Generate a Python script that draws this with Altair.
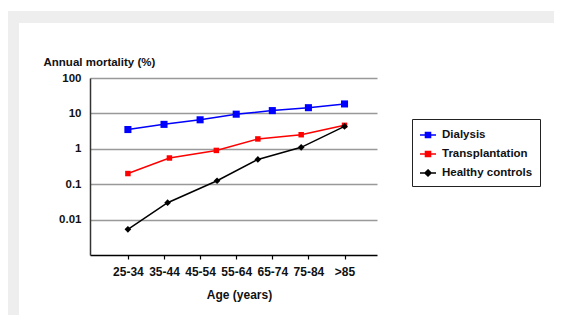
import altair as alt
import pandas as pd

ages = ["25-34", "35-44", "45-54", "55-64", "65-74", "75-84", ">85"]
series_names = ["Dialysis", "Transplantation", "Healthy controls"]
series_colors = ["#0000ff", "#ff0000", "#000000"]

dialysis_x = [0, 1, 2, 3, 4, 5, 6]
dialysis = [3.5, 4.9, 6.6, 9.5, 12.0, 14.5, 18.5]

transplant_x = [0, 1.15, 2.45, 3.6, 4.8, 6]
transplant = [0.2, 0.55, 0.9, 1.9, 2.5, 4.6]

healthy_x = [0, 1.1, 2.47, 3.6, 4.8, 6]
healthy = [0.0053, 0.03, 0.125, 0.5, 1.1, 4.3]

y_ticks = [0.01, 0.1, 1, 10, 100]

rows = []
for name, xs, ys in [("Dialysis", dialysis_x, dialysis),
                     ("Transplantation", transplant_x, transplant),
                     ("Healthy controls", healthy_x, healthy)]:
    for xv, yv in zip(xs, ys):
        rows.append({"series": name, "x": xv, "value": yv})
df = pd.DataFrame(rows)

FONT = "Liberation Sans"
label_expr = "[" + ",".join("'%s'" % a for a in ages) + "][datum.value]"

x_enc = alt.X("x:Q",
              scale=alt.Scale(domain=[-1.05, 6.9], nice=False, zero=False),
              axis=alt.Axis(values=list(range(len(ages))), labelExpr=label_expr,
                            grid=False, tickSize=4, tickColor="black", tickWidth=1.2,
                            domainColor="black", domainWidth=1.5,
                            labelPadding=7, labelFont=FONT, labelFontSize=12,
                            labelFontWeight="bold", labelColor="#111",
                            title="Age (years)", titleFont=FONT, titleFontSize=12,
                            titleFontWeight="bold", titleColor="#111",
                            titleX=149, titleY=39, titleBaseline="middle"))
y_enc = alt.Y("value:Q",
              scale=alt.Scale(type="log", domain=[0.001, 100], nice=False),
              axis=alt.Axis(values=y_ticks, format="~g", grid=True,
                            gridColor="#999999", gridWidth=1.5,
                            domainColor="#333333", domainWidth=1.5, ticks=False,
                            labelPadding=9, labelFont=FONT, labelFontSize=11.5,
                            labelFontWeight="bold", labelColor="#111",
                            title="Annual mortality (%)", titleFont=FONT,
                            titleFontSize=11.5, titleFontWeight="bold", titleColor="#111",
                            titleAngle=0, titleAlign="left", titleX=-47, titleY=-16,
                            titleBaseline="middle"))

base = alt.Chart(df)

marker_shapes = {"Dialysis": ("square", 50), "Transplantation": ("square", 30),
                 "Healthy controls": ("diamond", 45)}

series_layers = []
for i, (name, col) in enumerate(zip(series_names, series_colors)):
    sub = base.transform_filter(alt.datum.series == name)
    ln = sub.mark_line(strokeWidth=1.5, color=col).encode(
        x=x_enc if i == 0 else "x:Q", y=y_enc if i == 0 else "value:Q")
    shp, sz = marker_shapes[name]
    pt = sub.mark_point(shape=shp, filled=True, size=sz, opacity=1, color=col).encode(
        x="x:Q", y="value:Q")
    series_layers += [ln, pt]

sym_square = "M-1,0H1M-0.33,-0.33H0.33V0.33H-0.33Z"
sym_diamond = "M-1,0H1M0,-0.4L0.4,0L0,0.4L-0.4,0Z"
leg = alt.Legend(orient="none", legendX=322, legendY=41, title=None,
                 strokeColor="#222", fillColor="white", padding=7,
                 symbolSize=256, symbolStrokeWidth=1.3, symbolOpacity=1,
                 labelFont=FONT, labelFontSize=11.5, labelFontWeight="bold",
                 labelColor="#111", labelOffset=5, rowPadding=4)
legend_layer = base.mark_point(filled=True, opacity=0).encode(
    x="x:Q", y="value:Q",
    fill=alt.Fill("series:N", scale=alt.Scale(domain=series_names, range=series_colors), legend=leg),
    stroke=alt.Stroke("series:N", scale=alt.Scale(domain=series_names, range=series_colors), legend=leg),
    shape=alt.Shape("series:N", scale=alt.Scale(domain=series_names,
                                                range=[sym_square, sym_square, sym_diamond]), legend=leg),
)

frame_data = alt.Data(values=[{"k": 1}])
frame_top = alt.Chart(frame_data).mark_rect(color="#eeeeee").encode(
    x=alt.value(-82), x2=alt.value(464), y=alt.value(-67), y2=alt.value(-55))
frame_left = alt.Chart(frame_data).mark_rect(color="#eeeeee").encode(
    x=alt.value(-82), x2=alt.value(-71), y=alt.value(-67), y2=alt.value(237))

chart = alt.layer(frame_top, frame_left, *series_layers, legend_layer).properties(
    width=287, height=177,
    autosize=alt.AutoSizeParams(type="none"),
    padding={"left": 82, "top": 70, "right": 177, "bottom": 60},
    background="white",
).configure_view(stroke=None)

chart.save("out.html", embed_options={"renderer": "svg", "actions": False})
